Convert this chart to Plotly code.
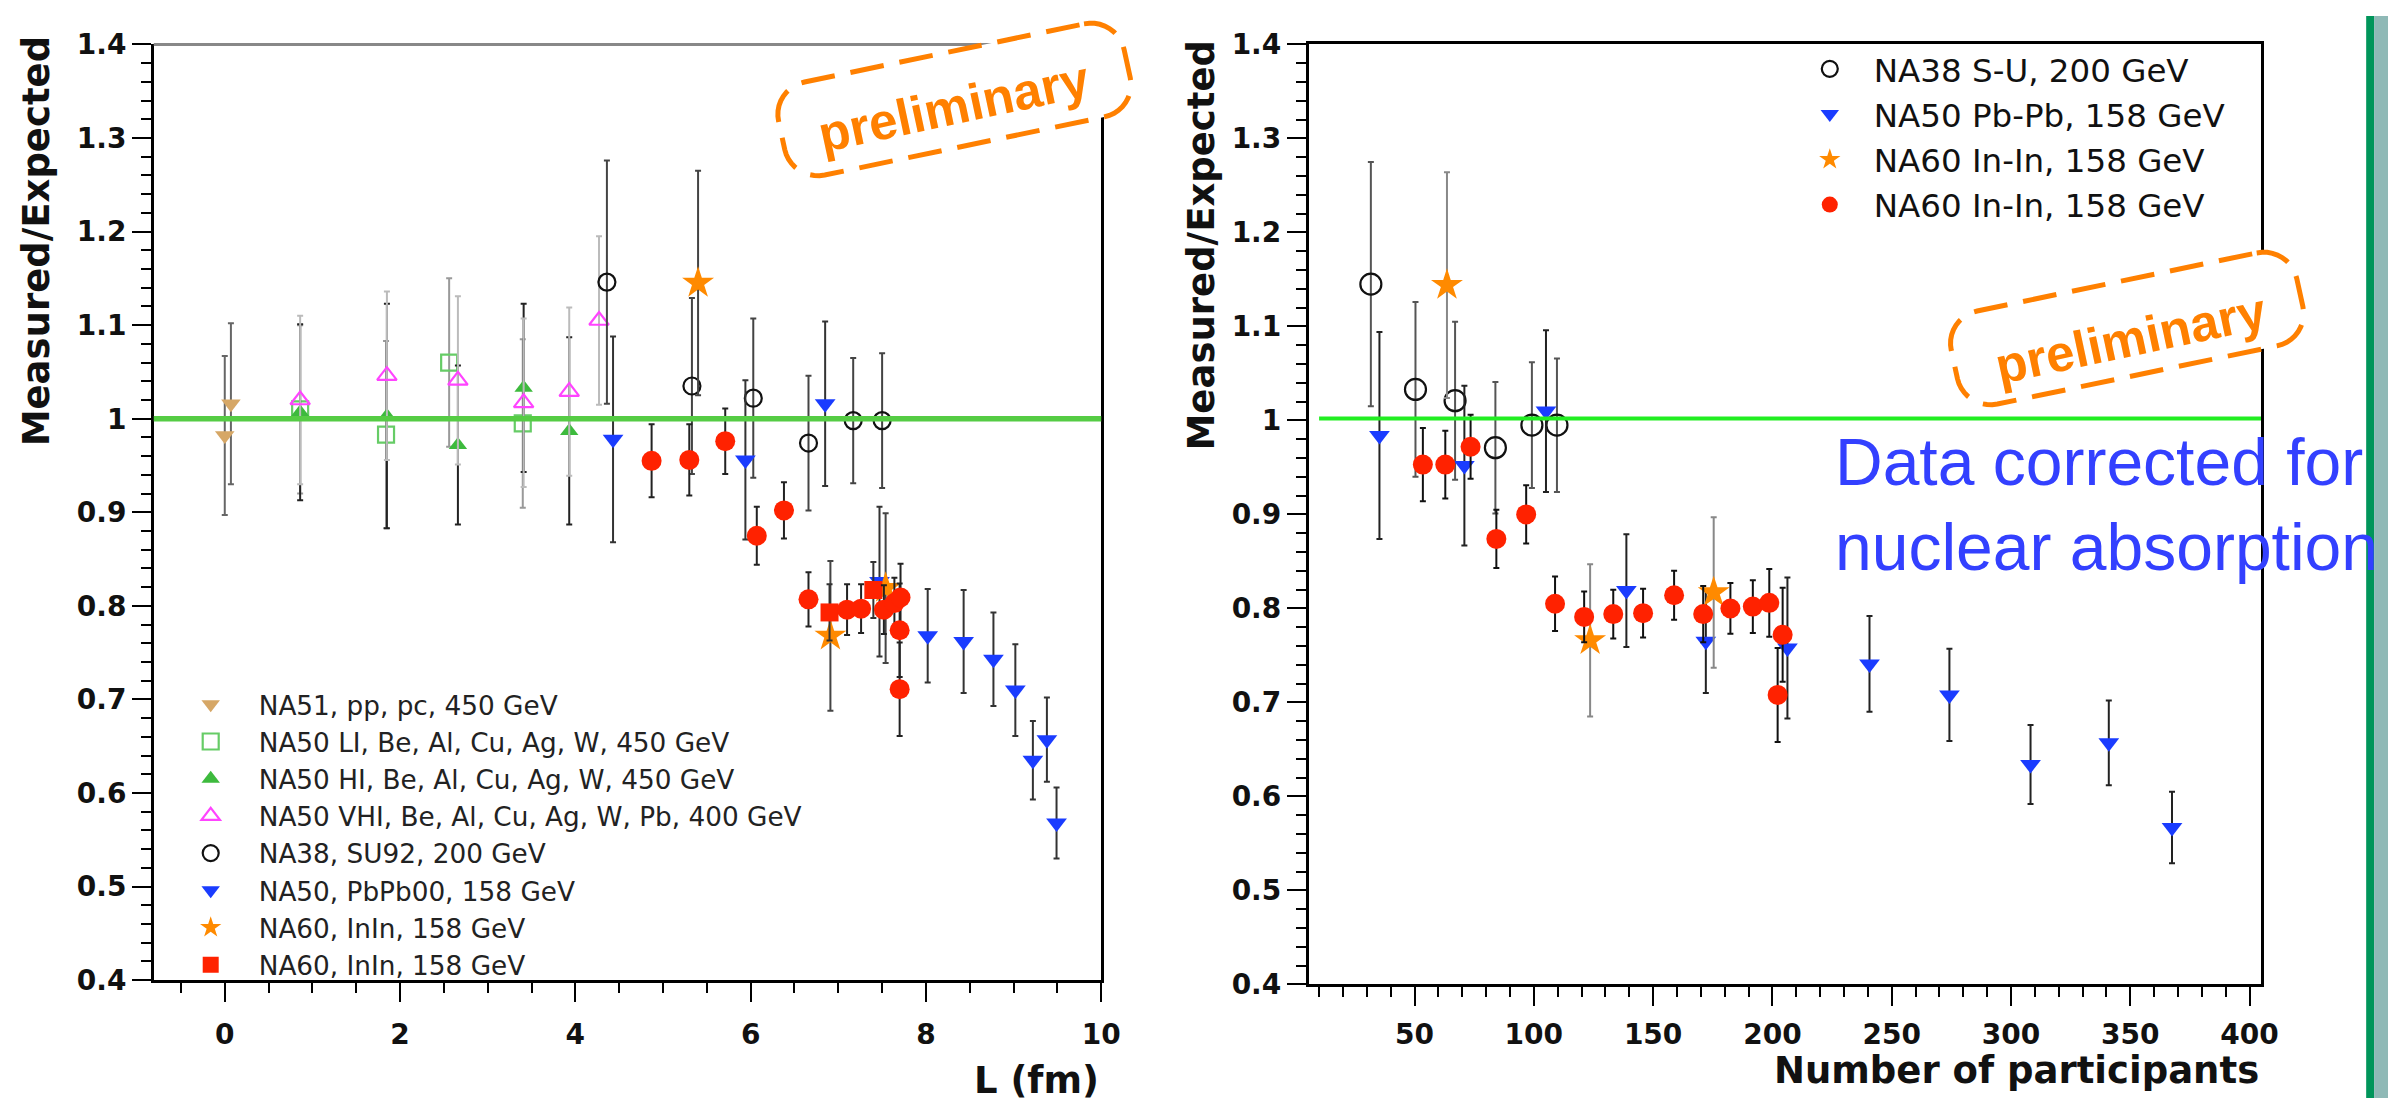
import math
import plotly.graph_objects as go

W, H = 2407, 1115

# ---------------- data: left panel, x = L (fm) ----------------
na51_L = [0.00, 0.07]
na51_r = [0.982, 1.016]
na51_e = [0.085, 0.086]

li_L = [0.86, 1.84, 2.56, 3.40]
li_r = [1.010, 0.983, 1.060, 0.995]
li_e = [0.09, 0.10, 0.09, 0.09]

hi_L = [0.86, 1.85, 2.66, 3.41, 3.93]
hi_r = [1.007, 1.003, 0.972, 1.033, 0.987]
hi_e = [0.094, 0.120, 0.085, 0.090, 0.100]

vhi_L = [0.86, 1.85, 2.66, 3.41, 3.93, 4.27]
vhi_r = [1.020, 1.046, 1.041, 1.017, 1.029, 1.105]
vhi_e = [0.09, 0.09, 0.09, 0.09, 0.09, 0.09]

na38_L = [4.36, 5.33, 6.03, 6.66, 7.17, 7.50]
na38_r = [1.146, 1.035, 1.022, 0.974, 0.998, 0.998]
na38_e = [0.130, 0.094, 0.085, 0.072, 0.067, 0.072]

na50_L = [4.43, 5.94, 6.85, 7.47, 8.02, 8.43, 8.77, 9.02, 9.22, 9.38, 9.49]
na50_r = [0.978, 0.956, 1.016, 0.826, 0.768, 0.762, 0.743, 0.710, 0.635, 0.657, 0.568]
na50_e = [0.110, 0.085, 0.088, 0.080, 0.050, 0.055, 0.050, 0.049, 0.042, 0.045, 0.038]

star_L = [5.40, 6.91, 7.54]
star_r = [1.145, 0.768, 0.819]
star_e = [0.120, 0.080, 0.080]

sq_L = [6.90, 7.40]
sq_r = [0.793, 0.817]
sq_e = [0.030, 0.030]

red_L = [4.87, 5.30, 5.71, 6.07, 6.38, 6.66, 7.10, 7.26, 7.52, 7.64, 7.71, 7.70, 7.70]
red_r = [0.955, 0.956, 0.976, 0.875, 0.902, 0.807, 0.796, 0.797, 0.796, 0.803, 0.809, 0.774, 0.711]
red_e = [0.039, 0.038, 0.035, 0.031, 0.030, 0.029, 0.027, 0.026, 0.026, 0.027, 0.036, 0.050, 0.050]

# ---------------- data: right panel, x = Number of participants ----------------
rna38_N = [31.7, 50.4, 67.0, 83.9, 99.2, 109.7]
rna38_r = [1.145, 1.033, 1.021, 0.971, 0.995, 0.995]
rna38_e = [0.130, 0.093, 0.084, 0.070, 0.067, 0.071]

rna50_N = [35.3, 70.9, 105.1, 138.8, 172.1, 206.3, 240.7, 274.2, 308.2, 341.0, 367.5]
rna50_r = [0.984, 0.952, 1.010, 0.819, 0.765, 0.758, 0.741, 0.708, 0.634, 0.657, 0.567]
rna50_e = [0.110, 0.085, 0.086, 0.060, 0.055, 0.075, 0.051, 0.049, 0.042, 0.045, 0.038]

rstar_N = [63.6, 123.6, 175.4]
rstar_r = [1.144, 0.766, 0.817]
rstar_e = [0.120, 0.081, 0.080]

rred_N = [53.5, 62.9, 73.5, 84.3, 96.8, 108.9, 121.1, 133.3, 145.8, 158.8, 171.0, 182.4, 191.8, 198.7, 204.3, 202.2]
rred_r = [0.953, 0.953, 0.972, 0.874, 0.900, 0.805, 0.791, 0.794, 0.795, 0.814, 0.794, 0.800, 0.802, 0.806, 0.772, 0.708]
rred_e = [0.039, 0.036, 0.034, 0.031, 0.031, 0.029, 0.027, 0.026, 0.026, 0.026, 0.030, 0.027, 0.028, 0.036, 0.050, 0.050]

# ---------------- labels ----------------
left_names = ["NA51, pp, pc, 450 GeV",
              "NA50 LI, Be, Al, Cu, Ag, W, 450 GeV",
              "NA50 HI, Be, Al, Cu, Ag, W, 450 GeV",
              "NA50 VHI, Be, Al, Cu, Ag, W, Pb, 400 GeV",
              "NA38, SU92, 200 GeV",
              "NA50, PbPb00, 158 GeV",
              "NA60, InIn, 158 GeV",
              "NA60, InIn, 158 GeV"]
right_names = ["NA38 S-U, 200 GeV",
               "NA50 Pb-Pb, 158 GeV",
               "NA60 In-In, 158 GeV",
               "NA60 In-In, 158 GeV"]

y_tickvals = [0.4, 0.5, 0.6, 0.7, 0.8, 0.9, 1.0, 1.1, 1.2, 1.3, 1.4]
y_ticktext = ["0.4", "0.5", "0.6", "0.7", "0.8", "0.9", "1", "1.1", "1.2", "1.3", "1.4"]
xl_tickvals = [0, 2, 4, 6, 8, 10]
xl_ticktext = ["0", "2", "4", "6", "8", "10"]
xr_tickvals = [50, 100, 150, 200, 250, 300, 350, 400]
xr_ticktext = ["50", "100", "150", "200", "250", "300", "350", "400"]


def X(px):
    return px / W


def Y(py):
    return 1 - py / H


fig = go.Figure()


def add(x, y, e, name, symbol, color, size, ecolor, xa, ya, legend, show=True, open_=False):
    marker = dict(symbol=symbol, color=color, size=size)
    if open_:
        marker["line"] = dict(color=color, width=2.2)
    else:
        marker["line"] = dict(width=0)
    fig.add_trace(go.Scatter(
        x=x, y=y, mode="markers", name=name, marker=marker,
        error_y=dict(type="data", array=e, visible=True, color=ecolor, thickness=2, width=3),
        xaxis=xa, yaxis=ya, legend=legend, showlegend=show))


# left panel
add(na51_L, na51_r, na51_e, left_names[0], "triangle-down", "#d6a766", 17, "#666", "x", "y", "legend")
add(li_L, li_r, li_e, left_names[1], "square-open", "#66cc66", 16, "#999", "x", "y", "legend", open_=True)
add(hi_L, hi_r, hi_e, left_names[2], "triangle-up", "#3dba3d", 16, "#222", "x", "y", "legend")
add(vhi_L, vhi_r, vhi_e, left_names[3], "triangle-up-open", "#ff44ff", 17, "#bbb", "x", "y", "legend", open_=True)
add(na38_L, na38_r, na38_e, left_names[4], "circle-open", "#111", 17, "#444", "x", "y", "legend", open_=True)
add(na50_L, na50_r, na50_e, left_names[5], "triangle-down", "#1a3cff", 18, "#333", "x", "y", "legend")
add(star_L, star_r, star_e, left_names[6], "star", "#ff8a00", 24, "#444", "x", "y", "legend")
add(sq_L, sq_r, sq_e, left_names[7], "square", "#ff2200", 18, "#333", "x", "y", "legend")
add(red_L, red_r, red_e, "NA60 In-In", "circle", "#ff2200", 20, "#222", "x", "y", "legend", show=False)

# right panel
add(rna38_N, rna38_r, rna38_e, right_names[0], "circle-open", "#111", 21, "#555", "x2", "y2", "legend2", open_=True)
add(rna50_N, rna50_r, rna50_e, right_names[1], "triangle-down", "#1a3cff", 18, "#222", "x2", "y2", "legend2")
add(rstar_N, rstar_r, rstar_e, right_names[2], "star", "#ff8a00", 24, "#888", "x2", "y2", "legend2")
add(rred_N, rred_r, rred_e, right_names[3], "circle", "#ff2200", 20, "#111", "x2", "y2", "legend2")

tickfont = dict(family="DejaVu Sans", size=28, color="#111", weight="bold")
common = dict(showline=True, linecolor="black", linewidth=2.5, ticks="outside", ticklen=19,
              tickwidth=2, tickcolor="black", showgrid=False, zeroline=False, tickfont=tickfont)

fig.update_layout(
    width=W, height=H,
    margin=dict(l=0, r=0, t=0, b=0),
    paper_bgcolor="white", plot_bgcolor="white",
    xaxis=dict(domain=[X(155), X(1110)], range=[-0.81, 10.0], anchor="y",
               tickvals=xl_tickvals, ticktext=xl_ticktext, ticklabelstandoff=8,
               minor=dict(ticks="outside", ticklen=10, dtick=0.5, tickcolor="black", tickwidth=2),
               **common),
    yaxis=dict(domain=[Y(993.6), Y(29.3)], range=[0.4, 1.4], anchor="x", mirror=True,
               tickvals=y_tickvals, ticktext=y_ticktext,
               minor=dict(ticks="outside", ticklen=10, dtick=0.02, tickcolor="black", tickwidth=2),
               **common),
    xaxis2=dict(domain=[X(1319), X(2279)], range=[5.6, 404.8], anchor="y2", mirror=True,
                tickvals=xr_tickvals, ticktext=xr_ticktext, ticklabelstandoff=4,
                minor=dict(ticks="outside", ticklen=10, dtick=10, tickcolor="black", tickwidth=2),
                **common),
    yaxis2=dict(domain=[Y(998), Y(29.3)], range=[0.4, 1.4], anchor="x2", mirror=True,
                tickvals=y_tickvals, ticktext=y_ticktext,
                minor=dict(ticks="outside", ticklen=10, dtick=0.02, tickcolor="black", tickwidth=2),
                **common),
    legend=dict(x=X(164), y=Y(685), xanchor="left", yanchor="top",
                font=dict(family="DejaVu Sans", size=26.3, color="#222"),
                bgcolor="rgba(0,0,0,0)", itemwidth=86, tracegroupgap=0),
    legend2=dict(x=X(1800), y=Y(26), xanchor="left", yanchor="top",
                 font=dict(family="DejaVu Sans", size=32.5, color="#111"),
                 bgcolor="rgba(0,0,0,0)", itemwidth=78, tracegroupgap=0),
)

shapes = []
# reference lines at ratio 1
shapes.append(dict(type="line", xref="x domain", yref="y", x0=0, x1=1, y0=1.0, y1=1.0,
                   line=dict(color="#55cc44", width=5.5), layer="above"))
shapes.append(dict(type="line", xref="x2", yref="y2", x0=10, x1=404.8, y0=1.002, y1=1.002,
                   line=dict(color="#22ee22", width=4), layer="above"))
# gray top frame of left panel
shapes.append(dict(type="line", xref="x domain", yref="y domain", x0=0, x1=1, y0=1, y1=1,
                   line=dict(color="#888", width=3)))


def stamp_path(cx, cy, w, h, r, ang, n=10):
    th = math.radians(ang)
    hw, hh = w / 2, h / 2
    corners = [(hw - r, -hh + r, -90, 0), (hw - r, hh - r, 0, 90),
               (-hw + r, hh - r, 90, 180), (-hw + r, -hh + r, 180, 270)]
    pts = []
    for cu, cv, a0, a1 in corners:
        for k in range(n + 1):
            a = math.radians(a0 + (a1 - a0) * k / n)
            u = cu + r * math.cos(a)
            v = cv + r * math.sin(a)
            x = cx + u * math.cos(th) + v * math.sin(th)
            y = cy - u * math.sin(th) + v * math.cos(th)
            pts.append((X(x), Y(y)))
    return "M " + " L ".join(f"{p[0]:.5f},{p[1]:.5f}" for p in pts) + " Z"


for (cx, cy) in [(962, 86), (2144, 322)]:
    shapes.append(dict(type="path", xref="paper", yref="paper", path=stamp_path(cx, cy, 356, 98, 34, 12),
                       fillcolor="white", line=dict(color="#ff8000", width=5, dash="34px,16px"), layer="above"))

# green slide border on the right
shapes.append(dict(type="rect", xref="paper", yref="paper", x0=X(2385), x1=X(2393), y0=0, y1=1,
                   fillcolor="#00955a", line=dict(width=0), layer="above"))
shapes.append(dict(type="rect", xref="paper", yref="paper", x0=X(2393), x1=1, y0=0, y1=1,
                   fillcolor="#8fb9b6", line=dict(width=0), layer="above"))
fig.update_layout(shapes=shapes)

title_font = dict(family="DejaVu Sans", size=37, color="#111", weight="bold")
ann = []
ann.append(dict(text="Measured/Expected", x=X(36.5), y=Y(232), xref="paper", yref="paper",
                textangle=-90, showarrow=False, font=title_font, xanchor="center", yanchor="middle"))
ann.append(dict(text="Measured/Expected", x=X(1211), y=Y(236), xref="paper", yref="paper",
                textangle=-90, showarrow=False, font=title_font, xanchor="center", yanchor="middle"))
ann.append(dict(text="L (fm)", x=X(1110), y=Y(1097), xref="paper", yref="paper",
                showarrow=False, font=title_font, xanchor="right", yanchor="middle"))
ann.append(dict(text="Number of participants", x=X(2279), y=Y(1087), xref="paper", yref="paper",
                showarrow=False, font=title_font, xanchor="right", yanchor="middle"))
for (tx, ty) in [(962, 93), (2148, 332)]:
    ann.append(dict(text="preliminary", x=X(tx), y=Y(ty), xref="paper", yref="paper", textangle=-12,
                    showarrow=False, xanchor="center", yanchor="middle",
                    font=dict(family="Liberation Sans", size=51, color="#ff8000", weight="bold")))
blue_font = dict(family="Liberation Sans", size=66, color="#3340ff")
ann.append(dict(text="Data corrected for", x=X(1848), y=Y(460), xref="paper", yref="paper",
                showarrow=False, xanchor="left", yanchor="middle", font=blue_font))
ann.append(dict(text="nuclear absorption", x=X(1848), y=Y(547), xref="paper", yref="paper",
                showarrow=False, xanchor="left", yanchor="middle", font=blue_font))
fig.update_layout(annotations=ann)

fig.write_html("out.html", config={"displayModeBar": False},
               post_script="document.body.style.margin='0';document.body.style.overflow='hidden';")
